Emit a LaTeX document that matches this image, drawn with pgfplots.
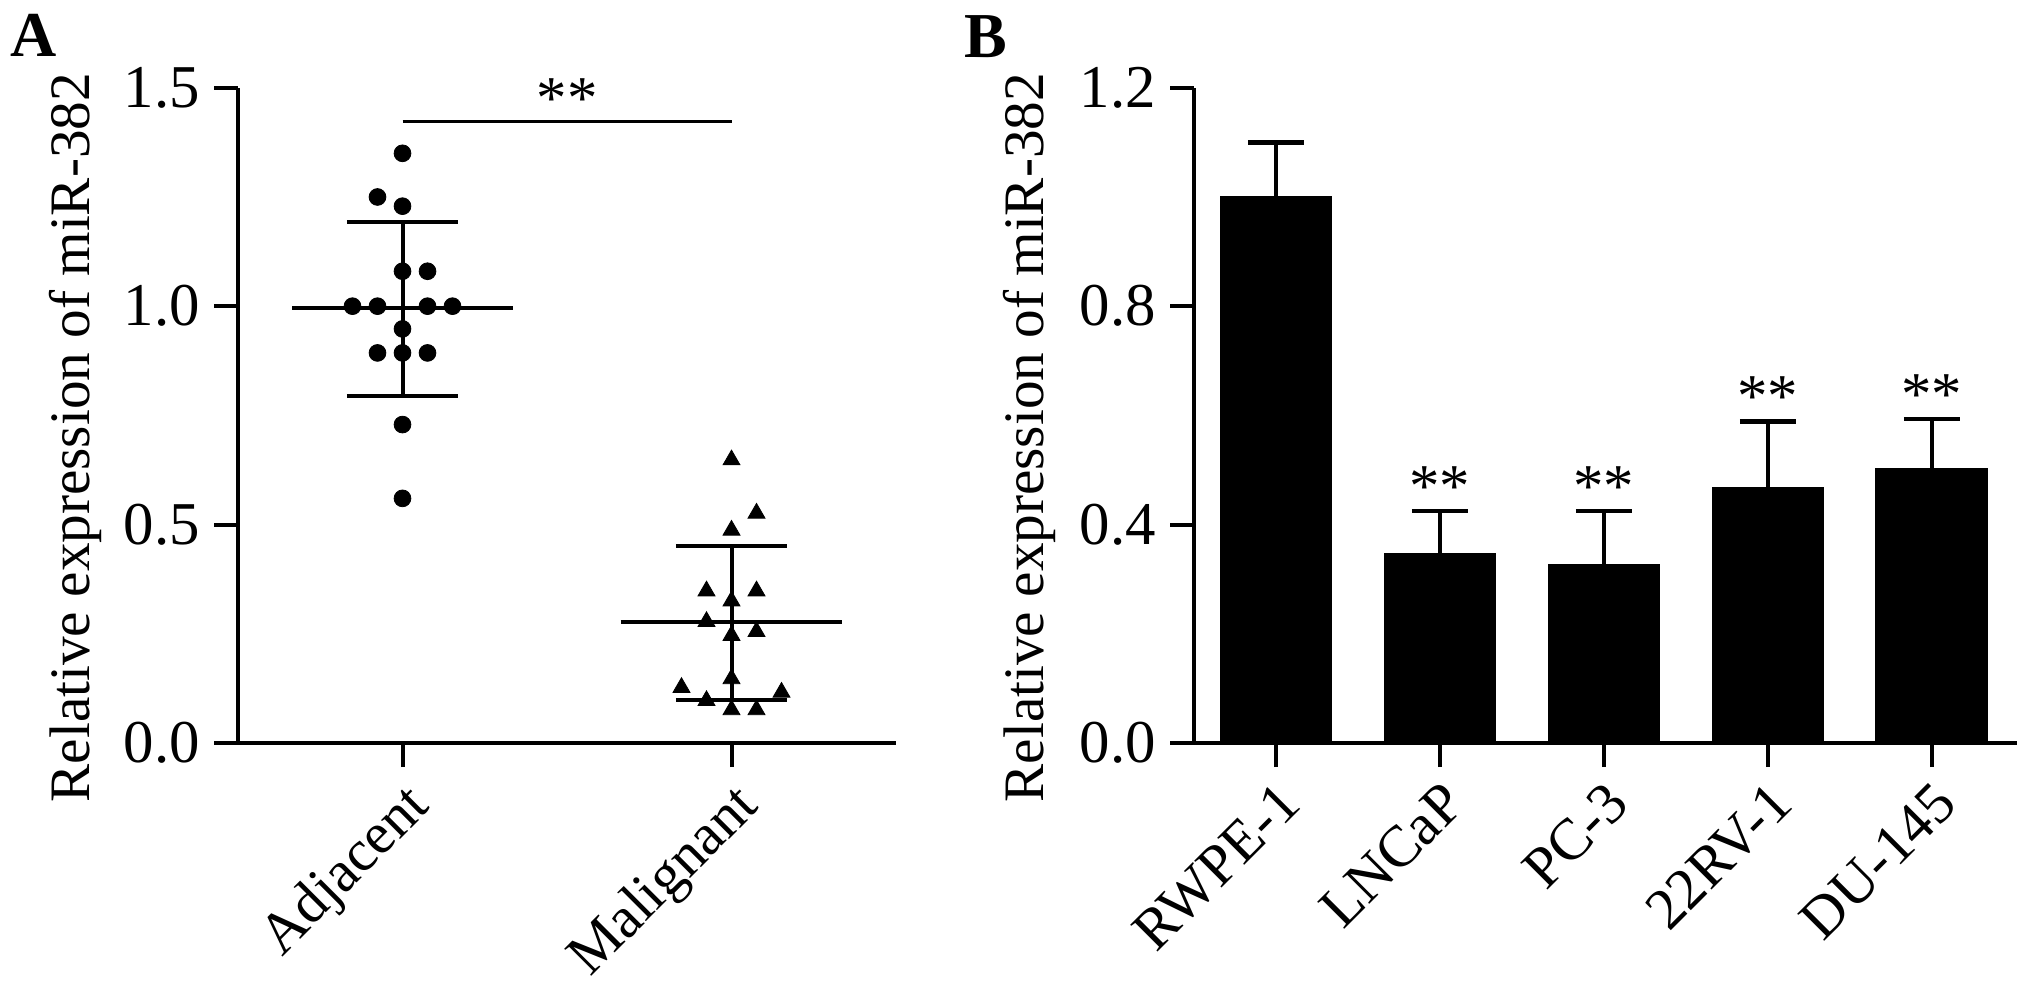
\documentclass[border=0pt]{standalone}
\usepackage{pgfplots}
\pgfplotsset{compat=1.18}
\usepackage{fontspec}
\setmainfont{Liberation Serif}
\newcommand{\fs}{\fontsize{14.3}{16}\selectfont}
\newcommand{\ft}{\fontsize{15.2}{17}\selectfont}
\newcommand{\fx}{\fontsize{14.6}{16}\selectfont}
\pgfplotsset{
  panel/.style={
    scale only axis,
    axis lines=left,
    axis line style={-, line width=1pt},
    tick align=outside,
    major tick length=6pt,
    every tick/.style={black, line width=1pt},
    tick label style={font=\ft},
    label style={font=\fs},
    yticklabel style={/pgf/number format/.cd, fixed, fixed zerofill, precision=1, assume math mode=true},
    x tick label style={font=\fx, rotate=45, anchor=north east, inner sep=2pt},
    clip=false,
    ylabel style={anchor=center},
  }
}
\begin{document}
\begin{tikzpicture}
\useasboundingbox (0,0) rectangle (507.75pt,245.75pt);
% ---------------- Panel A ----------------
\begin{axis}[panel,
  at={(59.5pt,60pt)}, anchor=south west,
  width=164.5pt, height=163.8pt,
  xmin=-0.5, xmax=1.5, ymin=0, ymax=1.5,
  xtick={0,1}, xticklabels={Adjacent,Malignant},
  ytick={0,0.5,1,1.5},
  ylabel={Relative expression of miR-382},
  ylabel style={at={(axis description cs:-0.247,0.466)}},
]
\addplot[only marks, mark=*, mark size=2.1pt, mark options={fill=black,draw=black,line width=0.2pt}] coordinates {
(0,1.35) (-0.076,1.25) (0,1.229) (0,1.08) (0.076,1.08)
(-0.152,1.0) (-0.076,1.0) (0.076,1.0) (0.152,1.0) (0,0.948)
(-0.076,0.893) (0,0.893) (0.076,0.893) (0,0.729) (0,0.56)};
\addplot[only marks, mark=triangle*, mark size=2.45pt, mark options={fill=black,draw=black,line width=0.2pt}] coordinates {
(1,0.648) (1.076,0.526) (1,0.487) (0.924,0.348) (1.076,0.348)
(1,0.325) (0.924,0.278) (1,0.246) (1.076,0.255) (1,0.147)
(0.848,0.127) (1.152,0.116) (0.924,0.097) (1,0.076) (1.076,0.076)};
% mean +- SD
\addplot[black, line width=1pt] coordinates {(-0.335,0.995) (0.335,0.995)};
\addplot[black, line width=1pt] coordinates {(0,0.795) (0,1.192)};
\addplot[black, line width=1pt] coordinates {(-0.169,1.192) (0.169,1.192)};
\addplot[black, line width=1pt] coordinates {(-0.169,0.795) (0.169,0.795)};
\addplot[black, line width=1pt] coordinates {(0.663,0.277) (1.337,0.277)};
\addplot[black, line width=1pt] coordinates {(1,0.099) (1,0.451)};
\addplot[black, line width=1pt] coordinates {(0.831,0.451) (1.169,0.451)};
\addplot[black, line width=1pt] coordinates {(0.831,0.099) (1.169,0.099)};
% significance
\addplot[black, line width=0.8pt] coordinates {(0,1.423) (1,1.423)};
\node[font=\ft] at (axis cs:0.5,1.475) {**};
\end{axis}
% ---------------- Panel B ----------------
\begin{axis}[panel,
  at={(298.5pt,60pt)}, anchor=south west,
  width=205.75pt, height=163.8pt,
  xmin=-0.5, xmax=4.52, ymin=0, ymax=1.2,
  xtick={0,1,2,3,4}, xticklabels={RWPE-1,LNCaP,PC-3,22RV-1,DU-145},
  ytick={0,0.4,0.8,1.2},
  ylabel={Relative expression of miR-382},
  ylabel style={at={(axis description cs:-0.2,0.466)}},
]
\addplot[ybar, bar width=27.75pt, fill=black, draw=black,
  error bars/.cd, y dir=plus, y explicit,
  error bar style={line width=1.1pt, black},
  error mark options={rotate=90, mark size=7pt, line width=1.1pt, black}]
  coordinates {
  (0,1.0) +- (0,0.100)
  (1,0.346) +- (0,0.079)
  (2,0.327) +- (0,0.098)
  (3,0.468) +- (0,0.121)
  (4,0.502) +- (0,0.091)};
\node[font=\ft] at (axis cs:1,0.47) {**};
\node[font=\ft] at (axis cs:2,0.47) {**};
\node[font=\ft] at (axis cs:3,0.634) {**};
\node[font=\ft] at (axis cs:4,0.638) {**};
\end{axis}
\node[font=\fontsize{16}{18}\selectfont\bfseries] at (8.5pt,236.8pt) {A};
\node[font=\fontsize{16}{18}\selectfont\bfseries] at (246.5pt,236.5pt) {B};
\end{tikzpicture}
\end{document}
